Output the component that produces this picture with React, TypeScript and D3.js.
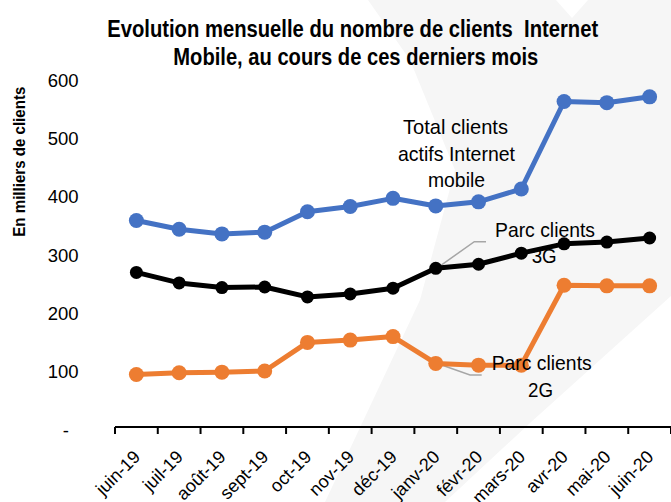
import React from "react";
import * as d3 from "d3";

const months = ["juin-19","juil-19","août-19","sept-19","oct-19","nov-19","déc-19","janv-20","févr-20","mars-20","avr-20","mai-20","juin-20"];
const totalInternet = [354, 339, 331, 334, 369, 378, 392, 379, 386, 408, 558, 556, 566];
const parc3G = [265, 247, 239, 240, 223, 228, 238, 272, 279, 298, 314, 317, 324];
const parc2G = [90, 93, 94, 96, 145, 149, 155, 109, 106, 106, 243, 242, 242];
const yTicks = [0, 100, 200, 300, 400, 500, 600];
const titleLines = ["Evolution mensuelle du nombre de clients  Internet", "Mobile, au cours de ces derniers mois"];
const yAxisTitle = "En milliers de clients";

const W = 671, H = 502;
const FONT = "'Liberation Sans', Arial, sans-serif";

export default function App() {
  const x = d3.scaleBand<string>().domain(months).range([115, 671]);
  const y = d3.scaleLinear().domain([0, 600]).range([427, 77]);
  const cx = (m: string) => (x(m) as number) + x.bandwidth() / 2;
  const line = d3.line<number>().x((_, i) => cx(months[i])).y((v) => y(v));
  const series = [
    { data: totalInternet, color: "#4472C4", r: 7.5 },
    { data: parc3G, color: "#000000", r: 6.5 },
    { data: parc2G, color: "#ED7D31", r: 7.5 },
  ];
  const bounds = months.map((m) => x(m) as number).concat([x.range()[1]]);
  const watermark = [[368,0],[556,0],[572,18],[588,0],[671,0],[671,296],[530,423],[445,502],[325,502],[420,300],[455,170],[410,60]];

  return (
    <svg width={W} height={H} style={{ position: "absolute", left: 0, top: 0, background: "#fff" }} fontFamily={FONT}>
      <rect width={W} height={H} fill="#fff" />
      <polygon points={watermark.map((p) => p.join(",")).join(" ")} fill="#f6f6f6" />
      {/* title */}
      <text x={352.7} y={36.5} textAnchor="middle" fontWeight="bold" fontSize={23} textLength={491} lengthAdjust="spacingAndGlyphs" style={{ whiteSpace: "pre" }}>{titleLines[0]}</text>
      <text x={355.8} y={65} textAnchor="middle" fontWeight="bold" fontSize={23} textLength={365} lengthAdjust="spacingAndGlyphs">{titleLines[1]}</text>
      {/* y axis title */}
      <text transform={`translate(24.5,161.7) rotate(-90)`} textAnchor="middle" fontWeight="bold" fontSize={16.5} textLength={150} lengthAdjust="spacingAndGlyphs">{yAxisTitle}</text>
      {/* y tick labels */}
      {yTicks.map((t) => (
        <text key={t} x={t === 0 ? 69 : 78.5} y={y(t) + 3 + 6.6} textAnchor="end" fontSize={18.5}>{t === 0 ? "-" : String(t)}</text>
      ))}
      {/* x axis */}
      <line x1={x.range()[0]} x2={x.range()[1]} y1={y(0)} y2={y(0)} stroke="#000" strokeWidth={2} />
      {bounds.map((b, i) => (
        <line key={i} x1={b} x2={b} y1={y(0)} y2={y(0) + 7} stroke="#000" strokeWidth={2} />
      ))}
      {months.map((m) => (
        <text key={m} transform={`translate(${cx(m) + 5},458) rotate(-45)`} textAnchor="end" fontSize={18}>{m}</text>
      ))}
      {/* leader lines */}
      <polyline points="486,241.7 474.3,241.7 436.7,268.3" fill="none" stroke="#a6a6a6" strokeWidth={1.5} />
      <polyline points="481.7,375 470,375 436.7,363.3" fill="none" stroke="#a6a6a6" strokeWidth={1.5} />
      {/* series */}
      {series.map((s, si) => (
        <g key={si}>
          <path d={line(s.data) as string} fill="none" stroke={s.color} strokeWidth={5} strokeLinejoin="round" />
          {s.data.map((v, i) => (
            <circle key={i} cx={cx(months[i])} cy={y(v)} r={s.r} fill={s.color} />
          ))}
        </g>
      ))}
      {/* annotations */}
      <g fontSize={21} textAnchor="middle">
        <text x={455.5} y={134.3} textLength={105} lengthAdjust="spacingAndGlyphs">Total clients</text>
        <text x={456.5} y={161} textLength={117} lengthAdjust="spacingAndGlyphs">actifs Internet</text>
        <text x={456.5} y={186.7} textLength={57} lengthAdjust="spacingAndGlyphs">mobile</text>
        <text x={545} y={236.7} textLength={100} lengthAdjust="spacingAndGlyphs">Parc clients</text>
        <text x={544.2} y={263.3} textLength={25} lengthAdjust="spacingAndGlyphs">3G</text>
        <text x={541.7} y={370} textLength={100} lengthAdjust="spacingAndGlyphs">Parc clients</text>
        <text x={540.5} y={396.7} textLength={25} lengthAdjust="spacingAndGlyphs">2G</text>
      </g>
    </svg>
  );
}
